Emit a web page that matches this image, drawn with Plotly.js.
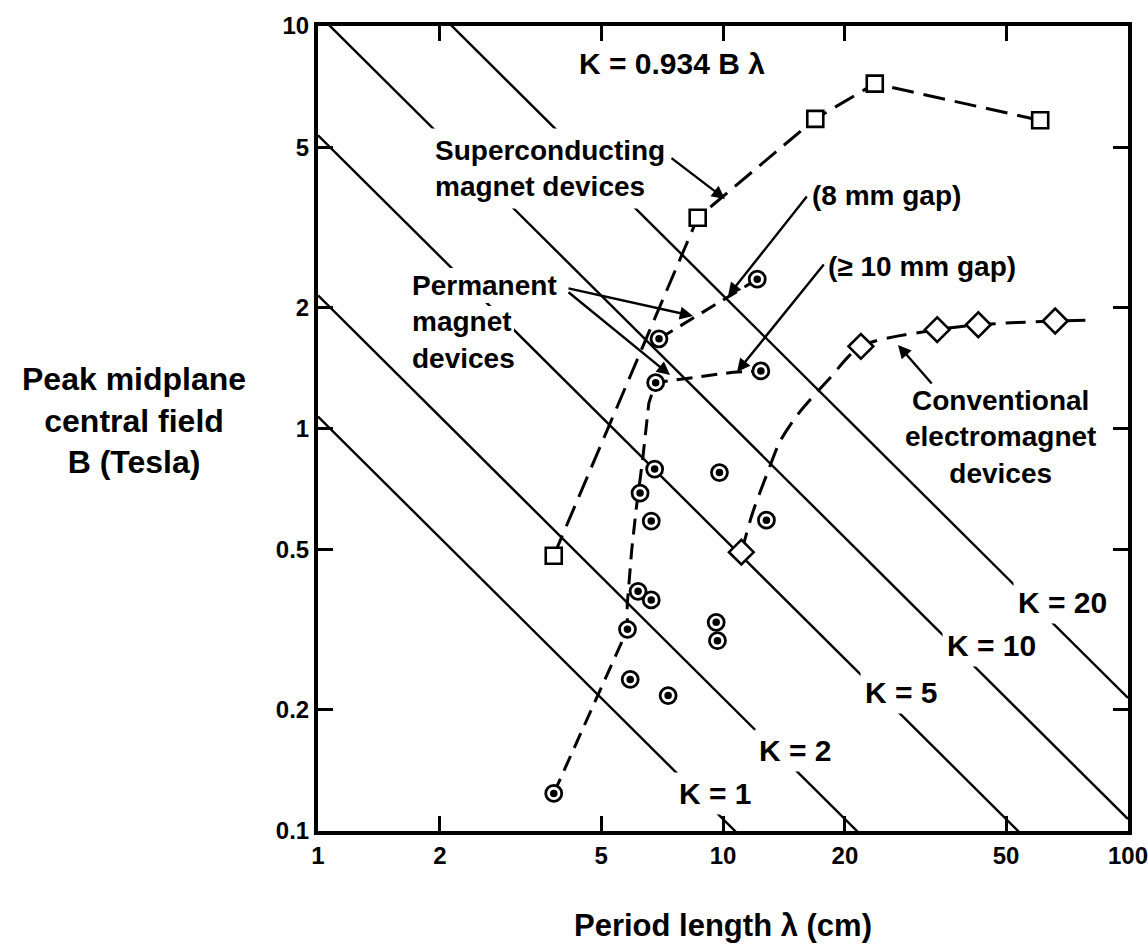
<!DOCTYPE html>
<html>
<head>
<meta charset="utf-8">
<script src="https://cdn.plot.ly/plotly-3.0.1.min.js"></script>
<style>html,body{margin:0;padding:0;background:#fff;}</style>
</head>
<body>
<div id="chart" style="width:1148px;height:947px;"></div>
<script>
// ---- Data ----
const K_COEFF = 0.934;                 // K = 0.934 B λ
const kValues = [1, 2, 5, 10, 20];

const superLambda = [3.82, 8.66, 16.9, 23.7, 60.7];
const superB      = [0.483, 3.34, 5.88, 7.19, 5.83];

const convLambda = [11.1, 21.9, 33.8, 42.7, 66.1];
const convB      = [0.493, 1.60, 1.76, 1.81, 1.85];
const convCurveLambda = [11.1, 11.85, 12.9, 13.8, 15.2, 18.3, 21.9, 33.8, 42.7, 66.1, 82.0];
const convCurveB      = [0.493, 0.62, 0.78, 0.925, 1.075, 1.33, 1.60, 1.76, 1.81, 1.85, 1.86];

const permLambda = [3.82, 5.81, 5.90, 7.32, 6.17, 6.65, 9.62, 9.69, 6.78, 9.80, 6.24, 6.65, 12.8, 6.82, 12.4, 6.95, 12.15];
const permB      = [0.124, 0.317, 0.238, 0.217, 0.394, 0.375, 0.33, 0.297, 0.793, 0.777, 0.691, 0.589, 0.592, 1.30, 1.39, 1.67, 2.35];

const gap10Lambda = [3.82, 5.81, 5.80, 5.95, 6.10, 6.33, 6.56, 6.82, 10.6, 12.4];
const gap10B      = [0.124, 0.317, 0.364, 0.498, 0.627, 0.834, 1.157, 1.30, 1.38, 1.39];
const gap8Lambda  = [6.95, 12.15];
const gap8B       = [1.67, 2.35];

const xTicks = [1, 2, 5, 10, 20, 50, 100];
const yTicks = [0.1, 0.2, 0.5, 1, 2, 5, 10];
const xTickText = ['1', '2', '5', '10', '20', '50', '100'];
const yTickText = ['0.1', '0.2', '0.5', '1', '2', '5', '10'];

// ---- Layout helpers ----
const FONT = 'Liberation Sans, Arial, Helvetica, sans-serif';
const L = 318, R = 1128, T = 26, BOT = 831;
const W = R - L, H = BOT - T;
const px = x => (x - L) / W;
const py = y => (BOT - y) / H;

const traces = [];

// constant-K lines
const lamEnds = [1, 100];
kValues.forEach(k => {
  traces.push({
    x: lamEnds, y: lamEnds.map(l => k / (K_COEFF * l)),
    mode: 'lines', line: {color: '#000', width: 2.4},
    hoverinfo: 'skip'
  });
});

// dashed curves
traces.push({x: superLambda, y: superB, mode: 'lines',
  line: {color: '#000', width: 3, dash: '22px,10px'}, hoverinfo: 'skip'});
traces.push({x: convCurveLambda, y: convCurveB, mode: 'lines',
  line: {color: '#000', width: 3, dash: '20px,10px', shape: 'spline', smoothing: 0.8}, hoverinfo: 'skip'});
traces.push({x: gap10Lambda, y: gap10B, mode: 'lines',
  line: {color: '#000', width: 3, dash: '16px,9px'}, hoverinfo: 'skip'});
traces.push({x: gap8Lambda, y: gap8B, mode: 'lines',
  line: {color: '#000', width: 3, dash: '16px,9px'}, hoverinfo: 'skip'});

// markers
traces.push({x: superLambda, y: superB, mode: 'markers', name: 'Superconducting',
  marker: {symbol: 'square', size: 16, color: '#fff', line: {color: '#000', width: 2.6}}});
traces.push({x: convLambda, y: convB, mode: 'markers', name: 'Conventional',
  marker: {symbol: 'diamond', size: 19, color: '#fff', line: {color: '#000', width: 2.6}}});
traces.push({x: permLambda, y: permB, mode: 'markers', name: 'Permanent',
  marker: {symbol: 'circle', size: 16, color: '#fff', line: {color: '#000', width: 2.8}}});
traces.push({x: permLambda, y: permB, mode: 'markers', hoverinfo: 'skip',
  marker: {symbol: 'circle', size: 7.5, color: '#000', line: {width: 0}}});

const txtFont = (s) => ({family: FONT, size: s, color: '#000', weight: 'bold'});

const annotations = [];
function label(text, x, y, opts) {
  annotations.push(Object.assign({
    text: text, xref: 'paper', yref: 'paper', x: px(x), y: py(y),
    xanchor: 'left', yanchor: 'middle', align: 'left', showarrow: false,
    font: txtFont(28)
  }, opts || {}));
}
function arrow(tx, ty, hx, hy) {
  annotations.push({
    text: '', xref: 'paper', yref: 'paper', x: px(hx), y: py(hy),
    ax: tx - hx, ay: ty - hy, showarrow: true, arrowhead: 2, arrowsize: 1.1,
    arrowwidth: 2.4, arrowcolor: '#000', standoff: 0, startstandoff: 0
  });
}

label('K = 0.934 B λ', 577, 63, {font: txtFont(30)});
label('Superconducting<br>magnet devices', 428, 168, {bgcolor: '#fff', borderpad: 6});
label('Permanent<br>magnet<br>devices', 410, 322);
label('(8 mm gap)', 810, 195);
label('(≥ 10 mm gap)', 826, 266);
label('Conventional<br>electromagnet<br>devices', 1000, 437, {xanchor: 'center', align: 'center'});

const kLabelPos = [[715, 793], [795, 750], [901, 692], [991, 645], [1062, 602]];
kValues.forEach((k, i) => {
  label('K = ' + k, kLabelPos[i][0], kLabelPos[i][1],
    {xanchor: 'center', font: txtFont(30), bgcolor: '#fff', borderpad: 4});
});

arrow(670, 157, 725, 199);
arrow(567, 288, 693, 316);
arrow(567, 291, 670, 375);
arrow(808, 195, 728, 296);
arrow(825, 263, 737, 372);
arrow(933, 385, 898, 345);

// y axis title (horizontal, as in the original)
annotations.push({
  text: 'Peak midplane<br>central field<br>B (Tesla)', xref: 'paper', yref: 'paper',
  x: px(134), y: py(420), xanchor: 'center', yanchor: 'middle', align: 'center',
  showarrow: false, font: txtFont(32)
});

// white masks behind the "Permanent / magnet" text lines (break the K line there)
const masks = [[408, 268, 560, 303], [408, 306, 514, 342]].map(r => ({
  type: 'rect', xref: 'paper', yref: 'paper', layer: 'above',
  x0: px(r[0]), x1: px(r[2]), y0: py(r[3]), y1: py(r[1]),
  fillcolor: '#fff', line: {width: 0}
}));

const axisCommon = {
  type: 'log', showgrid: false, zeroline: false,
  showline: true, linewidth: 4, linecolor: '#000', mirror: 'allticks',
  ticks: 'inside', ticklen: 15, tickwidth: 3, tickcolor: '#000',
  tickfont: txtFont(24), automargin: false, ticklabeloverflow: 'allow'
};

const layout = {
  width: 1148, height: 947,
  margin: {l: L, r: 1148 - R, t: T, b: 947 - BOT},
  paper_bgcolor: '#fff', plot_bgcolor: '#fff',
  showlegend: false,
  font: {family: FONT, color: '#000'},
  xaxis: Object.assign({}, axisCommon, {
    range: [0, 2], tickvals: xTicks, ticktext: xTickText,
    title: {text: 'Period length λ (cm)', font: txtFont(31), standoff: 48}
  }),
  yaxis: Object.assign({}, axisCommon, {
    range: [-1, 1], tickvals: yTicks, ticktext: yTickText
  }),
  shapes: masks,
  annotations: annotations
};

Plotly.newPlot('chart', traces, layout, {staticPlot: true, displayModeBar: false});
</script>
</body>
</html>
